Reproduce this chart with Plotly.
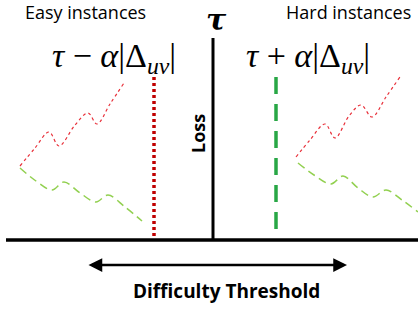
import plotly.graph_objects as go

# Diagram coordinates (pixel-like units, y downward)
easy_loss_x = [20, 35, 49, 59, 75, 88, 97, 110, 124]
easy_loss_y = [166, 148, 132, 146, 125, 113, 124, 104, 83]
easy_green_x = [20, 36, 52, 64, 80, 96, 108, 125, 142]
easy_green_y = [168, 181, 190, 182, 193, 202, 195, 207, 221]

hard_loss_x = [296, 310, 325, 335, 349, 361, 372, 386, 400]
hard_loss_y = [157, 140, 124, 138, 116, 105, 117, 97, 77]
hard_green_x = [298, 314, 331, 343, 358, 373, 386, 402, 418]
hard_green_y = [163, 175, 184, 176, 188, 197, 190, 200, 212]

tau_x = 213
easy_thr_x = 154
hard_thr_x = 276
axis_y = 240
thr_top = 77
tau_top = 38

labels = {
    "easy": "Easy instances",
    "hard": "Hard instances",
    "minus": "<i>τ</i> − <i>α</i>|Δ<sub><i>uv</i></sub>|",
    "plus": "<i>τ</i> + <i>α</i>|Δ<sub><i>uv</i></sub>|",
    "loss": "Loss",
    "tau": "<b><i>τ</i></b>",
    "diff": "Difficulty Threshold",
}

fig = go.Figure()

red_light = "#e8303a"
green_light = "#92d050"

fig.add_trace(go.Scatter(x=easy_loss_x, y=easy_loss_y, mode="lines", line=dict(color=red_light, width=1.2, dash="dot", shape="spline", smoothing=1.0), hoverinfo="skip"))
fig.add_trace(go.Scatter(x=easy_green_x, y=easy_green_y, mode="lines", line=dict(color=green_light, width=1.5, dash="8px,5px", shape="spline", smoothing=1.0), hoverinfo="skip"))
fig.add_trace(go.Scatter(x=hard_loss_x, y=hard_loss_y, mode="lines", line=dict(color=red_light, width=1.2, dash="dot", shape="spline", smoothing=1.0), hoverinfo="skip"))
fig.add_trace(go.Scatter(x=hard_green_x, y=hard_green_y, mode="lines", line=dict(color=green_light, width=1.5, dash="8px,5px", shape="spline", smoothing=1.0), hoverinfo="skip"))

# threshold lines
fig.add_trace(go.Scatter(x=[easy_thr_x, easy_thr_x], y=[thr_top, axis_y], mode="lines", line=dict(color="#c00000", width=3.5, dash="3px,3px"), hoverinfo="skip"))
fig.add_trace(go.Scatter(x=[hard_thr_x, hard_thr_x], y=[thr_top, axis_y], mode="lines", line=dict(color="#28a745", width=3.5, dash="17px,10px"), hoverinfo="skip"))

# axes
fig.add_trace(go.Scatter(x=[tau_x, tau_x], y=[tau_top, axis_y], mode="lines", line=dict(color="black", width=3), hoverinfo="skip"))
fig.add_trace(go.Scatter(x=[6, 418], y=[axis_y, axis_y], mode="lines", line=dict(color="black", width=3.5), hoverinfo="skip"))

# double arrow
fig.add_annotation(x=347, y=265, ax=87, ay=265, xref="x", yref="y", axref="x", ayref="y",
                   showarrow=True, arrowhead=2, arrowside="end+start", arrowsize=1.1, arrowwidth=2.5,
                   arrowcolor="black", text="")

fs = "Open Sans, Calibri, Carlito, sans-serif"
serif = "Liberation Serif, DejaVu Serif, serif"
fig.add_annotation(x=85, y=12, text=labels["easy"], showarrow=False, font=dict(family=fs, size=18, color="black"))
fig.add_annotation(x=348, y=12, text=labels["hard"], showarrow=False, font=dict(family=fs, size=18, color="black"))
fig.add_annotation(x=114, y=58, text=labels["minus"], showarrow=False, font=dict(family=serif, size=34, color="black"))
fig.add_annotation(x=308, y=58, text=labels["plus"], showarrow=False, font=dict(family=serif, size=34, color="black"))
fig.add_annotation(x=216, y=19, text=labels["tau"], showarrow=False, font=dict(family="DejaVu Serif, serif", size=30, color="black"))
fig.add_annotation(x=198, y=134, text="<b>" + labels["loss"] + "</b>", textangle=-90, showarrow=False, font=dict(family=fs, size=18, color="black"))
fig.add_annotation(x=226, y=291, text="<b>" + labels["diff"] + "</b>", showarrow=False, font=dict(family=fs, size=19, color="black"))

fig.update_layout(
    width=418, height=311, margin=dict(l=0, r=0, t=0, b=0),
    paper_bgcolor="white", plot_bgcolor="white", showlegend=False,
    xaxis=dict(range=[0, 418], visible=False, fixedrange=True),
    yaxis=dict(range=[311, 0], visible=False, fixedrange=True),
)

fig.write_html("out.html", config={"displayModeBar": False},
               post_script="document.body.style.margin='0';document.body.style.overflow='hidden';")
